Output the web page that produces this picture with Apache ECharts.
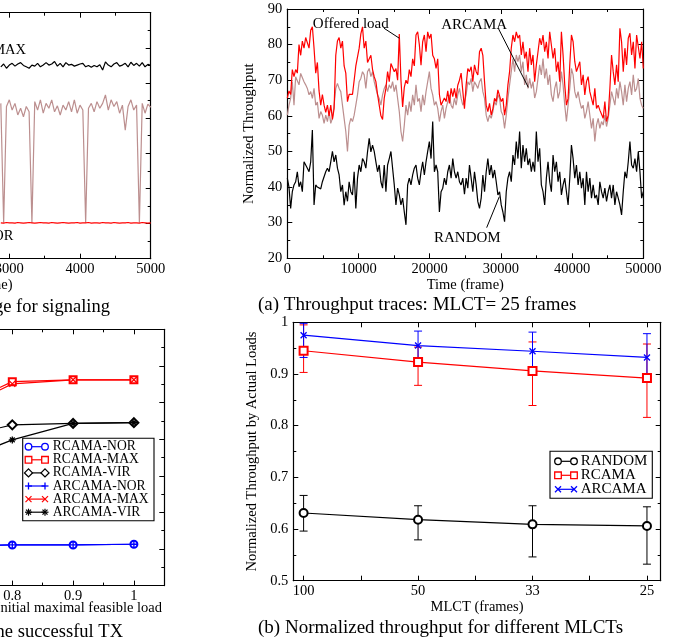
<!DOCTYPE html>
<html><head><meta charset="utf-8">
<script src="https://cdn.jsdelivr.net/npm/echarts@6/dist/echarts.min.js"></script>
<style>html,body{margin:0;padding:0;background:#fff}#c{width:673px;height:639px}</style>
</head><body><div id="c"></div><script>
const FONT = 'Liberation Serif';

// ---------- (a) Throughput traces, MLCT = 25 frames ----------
const traceSpan = 50000;
const offeredLoad = [
 65,67,66,73,71,73,72,80,77,81, 79,82,82,79,84,85,79,72,75,67,
 63,66,63,61,63,60,63,59,62,77, 81,82,79,81,74,72,64,66,66,66,
 66,74,74,79,83,85,79,81,75,75, 77,73,71,69.6,66,63,60,59,65,67.7,
 72.4,69.6,74.7,74.2,72.4,73.3,70,83,70,62.5, 68,70,69,73,71,76,74,82.7,83.6,80,
 74.2,80.8,82.7,78,83.6,81.7,83,77,76,73.3, 76,66,63,64,65,64,67,63.5,67.7,65.4,
 67.7,64.9,68.6,70,72,67,62,68.7,73.3,72.4, 73.8,69.6,74.3,72.4,71.5,78,79,77,69.6,63,
 61.2,63.5,60.2,62,64.9,64,67.3,66.8,64,64.9, 60.2,63,68.7,72.4,79,82.7,80.8,83.6,81.8,82.7,
 77.1,80.8,76.1,78,72.4,79,74.3,77.1,69.6,74.3, 78,81.8,79.9,82.7,78,80.8,76.1,83.6,83.6,76.1,
 79,72.4,75.2,69.6,83.6,77.1,68.7,63,64.9,74.3, 82.7,80.8,75.2,72.4,73.8,75.2,68.7,71.5,65.9,69.6,
 71,66.8,64.9,63,67.7,62.1,63,61.6,62.1,59.3, 64,58.4,60.2,67.7,77.1,72.4,68.7,74.3,69.6,84.6,
 80.8,72.4,79,74.3,81.8,83.2,77.1,80.8,73.3,82.7, 83.2,76.1,80.8,73.3
];
const arcamaTrace = [
 60.2,63,64.9,69.6,63,71,71.5,68.7,71.9,71.5, 69.6,68.7,67.7,65.9,66.8,64.9,67.7,63,63.9,59.3,
 61.2,60.2,57.9,60.2,58.4,61.2,57.9,59.3,63,67.7, 69.1,67.7,66.8,63,59.3,55.6,50,57.4,59.3,58.4,
 60.2,63,65.9,69.6,70.5,72.4,71.5,67.7,72.4,73.3, 71,72.4,69.6,67.7,65.9,64.9,63,65.9,67.7,68.7,
 66.8,68.7,67.7,69.6,66.8,68.7,64.9,61.2,55.6,52.8, 57.4,63,60.2,64,61.2,65.9,63,68.7,64,64.9,
 61.2,65.9,63,66.8,69.6,72.4,67.7,65.9,63,64, 62.1,58.4,61.2,63,59.3,62.1,64,65.9,63,62.1,
 64.9,63,65.9,67.7,64.9,63,64,65.9,69.6,68.7, 70.5,66.8,69.6,68.7,67.7,69.6,70.5,66.8,64.9,60.2,
 58.4,60.2,59.3,61.2,64,63,65.9,64.9,61.2,60.2, 56.5,60.2,64.9,68.7,72.4,76.1,72.4,77.1,75.2,77.1,
 72.4,75.2,68.7,71.5,67.7,70.5,67.7,69.6,65,66.8, 70.5,74.3,71.5,76.1,70.5,73.3,68.7,71.5,65.9,64,
 67.7,69.6,64.9,66.8,72.4,68.7,63,58.4,63,67.7, 73.3,71.5,66.8,65,66.8,64,62.1,63,59.3,61.2,
 64,60.2,56.5,59.3,52.8,57.4,59.3,56.5,58.4,57.4, 60.2,57,59.3,63,66.8,64.9,63,67.7,64.9,69.6,
 66.8,63,68.7,64,67.7,69.6,65.9,71.5,66.8,67.7, 70.5,64.9,63,62.1
];
const randomTrace = [
 42.5,40,34,38.7,40.6,41.5,44.3,40.1,41.5,38.7, 47.1,46.2,45.3,44.3,47.1,56,35,40.6,40,40.1,
 39.5,41.5,41.5,44.3,45.3,44.3,47.1,50,47.1,49, 45.3,43.4,38.7,40.6,34.9,38.7,36,41.5,38.7,37.8,
 44.3,34,42.5,46.2,44.3,48,47.1,45.3,49.9,53.7, 49.9,51.8,50,47.1,44.3,46.2,41.5,39.7,46.2,38.7,
 46.2,48,50,45.3,40.6,35,39.7,37.8,35,36.9, 33,29.4,40.6,42.5,40.6,43.4,45.3,46.2,42.5,40.6,
 44.3,47.1,43.4,47.1,50,52.8,48,58.4,44.3,46.2, 44.3,33,38.7,39.7,42.5,40.6,44.3,46.2,42.5,48,
 44.3,42.5,44.3,41.5,40.6,42.5,38,42.5,39.7,46.2, 42.5,38.7,44.3,40.6,35.9,34,36.9,43.4,38.7,44.3,
 48,43.4,46.2,42.5,44.8,41.5,37.8,38.7,35,33, 30.3,38.7,42.5,44.3,41.5,49,46.2,52.8,48,55.6,
 45.3,51.8,47.1,50.9,46.2,48,44.3,47.1,44.3,55.6, 47.1,50.9,40.6,38.7,35,42.5,47.1,41.5,38.7,49,
 44.3,47.1,41.5,44.3,37.8,40.6,42.5,38.7,35,42.5, 51.8,48,42.5,46.2,40.6,44.3,39.7,42.5,35,44.3,
 38.7,42.5,36.9,40.6,36.9,37.8,35,41.5,38.7,36.9, 39.7,36,38.7,40.6,36.9,40.6,35,38.7,36.9,35,
 32.2,38.7,44.3,42.5,47.1,52.8,46.2,45.3,48,44.3, 50,44.3,36.9,38.7
];
// arrows of the annotations, in data units [frame, throughput]
const arrowOffered = [[13580, 84.6], [15730, 81.8]];
const arrowArcama  = [[29630, 84.6], [33850, 68.0]];
const arrowRandom  = [[28000, 28.6], [29780, 37.3]];

// ---------- channel usage for signaling (partial, left top) ----------
const sigStart = 2880, sigStep = 40;
const sigMax = [
 54.6,55.4,54.2,55.1,55.6,54.8,55.4,55.8,55.0,54.6,
 54.2,55.1,54.8,55.6,54.6,55.1,55.8,55.1,55.4,56.1,
 54.8,55.6,54.6,55.8,55.1,55.3,54.8,55.1,55.4,55.6,
 54.6,55.0,54.5,55.0,54.6,55.2,53.7,56.0,
 55.1,54.6,55.4,55.8,54.8,55.1,55.6,54.6,
 55.9,55.0,55.6,54.8,55.8,54.6,55.3,55.0
];
const sigVir = [
 44.2,10.2,43.3,45.2,42.3,44.2,40.9,42.8,40.4,43.3,
 41.8,10.2,44.7,42.3,45.2,41.4,44.2,42.8,45.2,41.8,
 43.5,40.9,43.7,42.3,44.7,41.8,45.2,41.4,43.7,42.3,
 10.2,42.8,44.2,41.8,44.7,42.8,44.2,46.6,42.3,45.2,
 43.3,44.7,41.4,43.7,36.6,43.3,45.2,42.3,43.7,10.2,
 44.2,41.4,44.0,43.1
];
const sigNor = [
 10.2,10.1,10.3,10.2,10.2,10.1,10.3,10.2,10.1,10.2,
 10.3,10.2,10.1,10.2,10.3,10.2,10.2,10.1,10.3,10.2,
 10.1,10.2,10.3,10.2,10.1,10.2,10.2,10.3,10.1,10.2,
 10.2,10.3,10.1,10.2,10.2,10.1,10.3,10.2,10.2,10.1,
 10.3,10.2,10.1,10.2,10.2,10.3,10.1,10.2,10.2,10.1,
 10.3,10.2,10.1,10.2
];

// ---------- successful TX vs initial maximal feasible load (partial, left bottom) ----------
const loadX = [0.7, 0.8, 0.9, 1.0];
const rcamaNorTx  = [0.410, 0.411, 0.411, 0.413];
const rcamaMaxTx  = [0.780, 0.857, 0.862, 0.862];
const rcamaVirTx  = [0.700, 0.739, 0.743, 0.745];
const arcamaNorTx = [0.410, 0.411, 0.411, 0.413];
const arcamaMaxTx = [0.770, 0.851, 0.862, 0.862];
const arcamaVirTx = [0.632, 0.698, 0.743, 0.745];

// ---------- (b) Normalized throughput for different MLCTs ----------
const mlctPos = [0, 1, 2, 3];
const mlctLabels = ['100', '50', '33', '25'];
const randomMean = [0.631, 0.618, 0.609, 0.606];
const randomLo   = [0.596, 0.579, 0.546, 0.532];
const randomHi   = [0.665, 0.645, 0.645, 0.643];
const rcamaMean  = [0.945, 0.923, 0.906, 0.892];
const rcamaLo    = [0.903, 0.878, 0.839, 0.816];
const rcamaHi    = [0.995, 0.952, 0.962, 0.958];
const arcamaMean = [0.975, 0.955, 0.944, 0.932];
const arcamaLo   = [0.932, 0.925, 0.905, 0.897];
const arcamaHi   = [0.998, 0.983, 0.981, 0.978];

// ---------- layout ----------
const G_TR = {left: 287.3, top: 9, width: 356, height: 249.3};
const G_BR = {left: 293.3, top: 322.3, width: 367.4, height: 258.4};
const G_TL = {left: -202.8, top: 12.7, width: 353.5, height: 246};
const G_BL = {left: -170.1, top: 329.3, width: 334.4, height: 256.3};

const RED = '#ff0000', BLUE = '#0000ff', BLACK = '#000000', BROWN = '#bc8f8f';
const SYM_X = 'path://M0,0L10,10M10,0L0,10';
const SYM_PLUS = 'path://M5,0L5,10M0,5L10,5';
const SYM_STAR = 'path://M5,0L5,10M0,5L10,5M1.6,1.6L8.4,8.4M8.4,1.6L1.6,8.4';
const plainNum = v => String(Math.round(v * 1000) / 1000);

function axisPair(dim, gridIndex, cfg) {
  const base = {
    type: 'value', gridIndex, min: cfg.min, max: cfg.max,
    axisLine: {show: true, onZero: false, lineStyle: {color: '#000', width: 1.2}},
    axisTick: {show: true, inside: true, length: 5, lineStyle: {color: '#000', width: 1}},
    minorTick: {show: cfg.minor !== false, splitNumber: 2, length: 3, lineStyle: {color: '#000', width: 1}},
    splitLine: {show: false}, minorSplitLine: {show: false}
  };
  if (cfg.interval != null) base.interval = cfg.interval;
  if (cfg.splitNumber != null) base.splitNumber = cfg.splitNumber;
  const primary = Object.assign({}, base, {
    position: dim === 'x' ? 'bottom' : 'left',
    axisLabel: Object.assign({show: true, color: '#000', fontFamily: FONT, fontSize: 14.5,
      margin: dim === 'x' ? 3 : 5, formatter: plainNum}, cfg.label || {}),
    name: cfg.name || '', nameLocation: 'middle', nameGap: cfg.nameGap || 0,
    nameTextStyle: {color: '#000', fontFamily: FONT, fontSize: 14.5}
  });
  const mirror = Object.assign({}, base, {position: dim === 'x' ? 'top' : 'right', axisLabel: {show: false}});
  return [primary, mirror];
}

const xAxes = [].concat(
  axisPair('x', 0, {min: 0, max: 50000, interval: 10000, name: 'Time (frame)', nameGap: 16}),
  axisPair('x', 1, {min: -0.09, max: 3.12, splitNumber: 6, minor: false, name: 'MLCT (frames)', nameGap: 17,
    label: {formatter: v => {
      const r = Math.round(v);
      return (Math.abs(v - r) < 1e-6 && r >= 0 && r < mlctLabels.length) ? mlctLabels[r] : '';
    }}}),
  axisPair('x', 2, {min: 0, max: 5000, interval: 1000, name: 'Time (frame)', nameGap: 17}),
  axisPair('x', 3, {min: 0.5, max: 1.05, interval: 0.1, label: {showMaxLabel: false}})
);
const yAxes = [].concat(
  axisPair('y', 0, {min: 20, max: 90, interval: 10, name: 'Normalized Throughput', nameGap: 22}),
  axisPair('y', 1, {min: 0.5, max: 1.0, interval: 0.1, name: 'Normalized Throughput by Actual Loads', nameGap: 28}),
  axisPair('y', 2, {min: 0, max: 70, interval: 10}),
  axisPair('y', 3, {min: 0.3, max: 1.0, interval: 0.1})
);

function traceData(arr) {
  const n = arr.length;
  return arr.map((v, i) => [i * traceSpan / (n - 1), v]);
}
function sigData(arr) { return arr.map((v, i) => [sigStart + i * sigStep, v]); }

function lineSeries(name, data, color, xi, yi, extra) {
  return Object.assign({
    type: 'line', name, data, xAxisIndex: xi, yAxisIndex: yi,
    symbol: 'none', showSymbol: false, smooth: false,
    lineStyle: {color, width: 1.2}, itemStyle: {color},
    emphasis: {disabled: true}, silent: true, animation: false
  }, extra || {});
}
function markerLine(name, xs, ys, color, symbol, size, xi, yi) {
  return {
    type: 'line', name, data: xs.map((x, i) => [x, ys[i]]), xAxisIndex: xi, yAxisIndex: yi,
    symbol, symbolSize: size, showSymbol: true,
    lineStyle: {color, width: 1.2},
    itemStyle: {color: symbol.startsWith('path') ? 'none' : color, borderColor: color, borderWidth: 1.3},
    emphasis: {disabled: true}, silent: true, animation: false
  };
}
function errSeries(name, lo, hi, color) {
  return {
    type: 'custom', name, xAxisIndex: 2, yAxisIndex: 2, silent: true, animation: false,
    data: mlctPos.map((x, i) => [x, lo[i], hi[i]]),
    encode: {x: 0, y: [1, 2]},
    renderItem: (params, api) => {
      const x = api.value(0);
      const a = api.coord([x, api.value(1)]);
      const b = api.coord([x, api.value(2)]);
      const w = 4, st = {stroke: color, lineWidth: 1};
      return {type: 'group', children: [
        {type: 'line', shape: {x1: a[0], y1: a[1], x2: b[0], y2: b[1]}, style: st},
        {type: 'line', shape: {x1: a[0] - w, y1: a[1], x2: a[0] + w, y2: a[1]}, style: st},
        {type: 'line', shape: {x1: b[0] - w, y1: b[1], x2: b[0] + w, y2: b[1]}, style: st}
      ]};
    }
  };
}
function arrowData(a) { return [{coord: a[0]}, {coord: a[1]}]; }

const series = [
  lineSeries('ARCAMA', traceData(arcamaTrace), BROWN, 0, 0),
  lineSeries('Offered load', traceData(offeredLoad), RED, 0, 0),
  lineSeries('RANDOM', traceData(randomTrace), BLACK, 0, 0, {
    markLine: {
      silent: true, animation: false, symbol: ['none', 'arrow'], symbolSize: [0, 7],
      lineStyle: {color: '#000', width: 1, type: 'solid'}, label: {show: false},
      emphasis: {disabled: true},
      data: [arrowData(arrowOffered), arrowData(arrowArcama), arrowData(arrowRandom)]
    }
  }),
  // MLCT chart
  errSeries('RANDOM err', randomLo, randomHi, BLACK),
  markerLine('RANDOM', mlctPos, randomMean, BLACK, 'emptyCircle', 8, 2, 2),
  errSeries('RCAMA err', rcamaLo, rcamaHi, RED),
  markerLine('RCAMA', mlctPos, rcamaMean, RED, 'emptyRect', 8, 2, 2),
  errSeries('ARCAMA err', arcamaLo, arcamaHi, BLUE),
  markerLine('ARCAMA', mlctPos, arcamaMean, BLUE, SYM_X, 6, 2, 2),
  // signaling chart
  lineSeries('RCAMA-MAX', sigData(sigMax), BLACK, 4, 4),
  lineSeries('RCAMA-VIR', sigData(sigVir), BROWN, 4, 4),
  lineSeries('RCAMA-NOR', sigData(sigNor), RED, 4, 4),
  // successful TX chart
  markerLine('RCAMA-NOR', loadX, rcamaNorTx, BLUE, 'emptyCircle', 7, 6, 6),
  markerLine('RCAMA-MAX', loadX, rcamaMaxTx, RED, 'emptyRect', 7, 6, 6),
  markerLine('RCAMA-VIR', loadX, rcamaVirTx, BLACK, 'emptyDiamond', 9, 6, 6),
  markerLine('ARCAMA-NOR', loadX, arcamaNorTx, BLUE, SYM_PLUS, 7, 6, 6),
  markerLine('ARCAMA-MAX', loadX, arcamaMaxTx, RED, SYM_X, 6, 6, 6),
  markerLine('ARCAMA-VIR', loadX, arcamaVirTx, BLACK, SYM_STAR, 7, 6, 6)
];

// ---------- graphic: texts, captions and legends ----------
function txt(text, x, y, size, align, extra) {
  return Object.assign({type: 'text', x, y, silent: true,
    style: {text, fontFamily: FONT, fontSize: size, fill: '#000', align: align || 'left', verticalAlign: 'middle'}}, extra || {});
}
function seg(x1, y1, x2, y2, color, lw) {
  return {type: 'line', silent: true, shape: {x1, y1, x2, y2}, style: {stroke: color, lineWidth: lw || 1.2}};
}
function sym(kind, cx, cy, color) {
  const r = 3.3;
  switch (kind) {
    case 'circle': return [{type: 'circle', silent: true, shape: {cx, cy, r}, style: {fill: '#fff', stroke: color, lineWidth: 1.3}}];
    case 'rect': return [{type: 'rect', silent: true, shape: {x: cx - r, y: cy - r, width: 2 * r, height: 2 * r}, style: {fill: '#fff', stroke: color, lineWidth: 1.3}}];
    case 'diamond': return [{type: 'polygon', silent: true, shape: {points: [[cx, cy - 4], [cx + 4, cy], [cx, cy + 4], [cx - 4, cy]]}, style: {fill: '#fff', stroke: color, lineWidth: 1.3}}];
    case 'plus': return [seg(cx - 3.5, cy, cx + 3.5, cy, color, 1.3), seg(cx, cy - 3.5, cx, cy + 3.5, color, 1.3)];
    case 'x': return [seg(cx - 3, cy - 3, cx + 3, cy + 3, color, 1.3), seg(cx - 3, cy + 3, cx + 3, cy - 3, color, 1.3)];
    case 'star': return [seg(cx - 3.5, cy, cx + 3.5, cy, color, 1.2), seg(cx, cy - 3.5, cx, cy + 3.5, color, 1.2),
      seg(cx - 2.5, cy - 2.5, cx + 2.5, cy + 2.5, color, 1.2), seg(cx - 2.5, cy + 2.5, cx + 2.5, cy - 2.5, color, 1.2)];
  }
  return [];
}
function legend(box, items, sx1, sx2, tx, y0, dy, size) {
  const els = [{type: 'rect', silent: true, shape: box, style: {fill: '#fff', stroke: '#000', lineWidth: 1.1}}];
  items.forEach((it, i) => {
    const y = y0 + i * dy;
    els.push(seg(sx1, y, sx2, y, it.color, 1.2));
    els.push(...sym(it.kind, sx1, y, it.color), ...sym(it.kind, sx2, y, it.color));
    els.push(txt(it.name, tx, y, size, 'left'));
  });
  return els;
}

const graphic = [].concat(
  [
    txt('Offered load', 350.8, 24, 15, 'center'),
    txt('ARCAMA', 474.2, 25, 15, 'center'),
    txt('RANDOM', 467.3, 238, 15, 'center'),
    txt('RCAMA-MAX', 26, 50, 14.5, 'right'),
    txt('RCAMA-NOR', 13.3, 236, 14.5, 'right'),
    txt('Initial maximal feasible load', 162, 608.5, 14.5, 'right'),
    txt('(a) Throughput traces: MLCT= 25 frames', 258, 305, 19, 'left'),
    txt('(b) Normalized throughput for different MLCTs', 258, 628.3, 19, 'left'),
    txt('Channel usage for signaling', 110, 306.7, 18.5, 'right'),
    txt('Percentage of the successful TX', 123, 631.7, 18.5, 'right')
  ],
  legend({x: 550, y: 451.3, width: 102.3, height: 47},
    [{name: 'RANDOM', kind: 'circle', color: BLACK},
     {name: 'RCAMA', kind: 'rect', color: RED},
     {name: 'ARCAMA', kind: 'x', color: BLUE}], 558, 574, 580.7, 461.3, 14, 15),
  legend({x: 22.7, y: 438.3, width: 131.3, height: 82.4},
    [{name: 'RCAMA-NOR', kind: 'circle', color: BLUE},
     {name: 'RCAMA-MAX', kind: 'rect', color: RED},
     {name: 'RCAMA-VIR', kind: 'diamond', color: BLACK},
     {name: 'ARCAMA-NOR', kind: 'plus', color: BLUE},
     {name: 'ARCAMA-MAX', kind: 'x', color: RED},
     {name: 'ARCAMA-VIR', kind: 'star', color: BLACK}], 28.5, 45, 52.7, 446.7, 13.1, 13.6)
);

const gridBase = {containLabel: false, outerBoundsMode: 'none', show: false};
const chart = echarts.init(document.getElementById('c'), null, {renderer: 'canvas'});
chart.setOption({
  animation: false,
  backgroundColor: '#fff',
  textStyle: {fontFamily: FONT, color: '#000'},
  grid: [G_TR, G_BR, G_TL, G_BL].map(g => Object.assign({}, gridBase, g)),
  xAxis: xAxes,
  yAxis: yAxes,
  series,
  graphic
});
</script></body></html>
